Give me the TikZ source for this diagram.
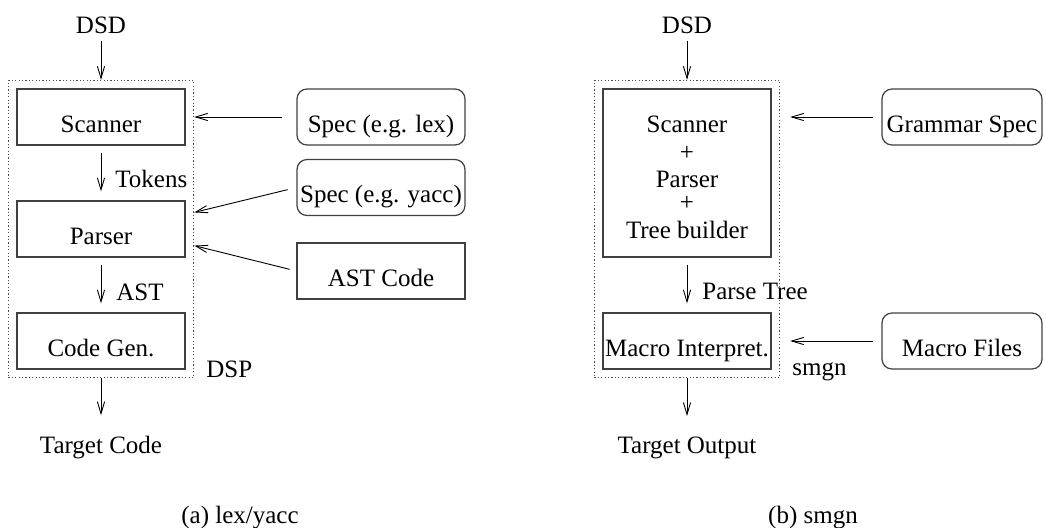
\documentclass[tikz,border=0pt]{standalone}
\usepackage{fontspec}
\setmainfont{Liberation Serif}
\usetikzlibrary{arrows.meta,fit,calc}
\newcommand{\figfont}{\fontsize{12.5}{14}\selectfont}
\tikzset{
  stage/.style={draw=black!75, line width=0.6pt, minimum width=84pt, minimum height=28pt,
    inner sep=0pt, text height=15pt, text depth=0pt, font=\figfont},
  specbox/.style={stage, rounded corners=5pt},
  dspbox/.style={draw=black!70, line width=0.6pt, dash pattern=on 0.6pt off 1.1pt, inner sep=4pt},
  txt/.style={inner sep=0pt, font=\figfont},
  flow/.style={-{Straight Barb[length=6pt,width=3.6pt]}, line width=0.45pt}
}

\begin{document}
\begin{tikzpicture}[x=0.5pt,y=-0.5pt]
  \useasboundingbox (0,0) rectangle (1046,527);

  % lex/yacc
  \node[txt, anchor=base] (lexdsd) at (101,33) {DSD};
  \node[stage] (scanner) at (101,117) {Scanner};
  \node[stage] (parser) at (101,229) {Parser};
  \node[stage] (codegen) at (101,341) {Code Gen.};
  \node[dspbox, fit=(scanner)(codegen)] (lexdsp) {};
  \node[txt, anchor=base] (lextarget) at (101,453) {Target Code};

  \node[specbox] (speclex) at (381,117) {Spec (e.g. lex)};
  \node[specbox] (specyacc) at (381,187.5) {Spec (e.g. yacc)};
  \node[stage] (astcode) at (381,271) {AST Code};

  \node[txt, anchor=base west] (tokens) at (115,187) {Tokens};
  \node[txt, anchor=base west] (ast) at (116,300) {AST};
  \node[txt, anchor=base west] (dsp) at (206,377) {DSP};

  \coordinate (yaccin) at ([yshift=-6pt]lexdsp.east |- parser.north);
  \coordinate (astin) at ([yshift=6pt]lexdsp.east |- parser.south);

  \draw[flow, shorten <=3.5pt] (lexdsd.south) -- (lexdsp.north);
  \draw[flow, shorten <=3.5pt, shorten >=4.5pt] (scanner.south) -- (parser.north);
  \draw[flow, shorten <=3.5pt, shorten >=4.5pt] (parser.south) -- (codegen.north);
  \draw[flow, shorten >=10pt] (lexdsp.south) -- (lextarget.north);
  \draw[flow, shorten <=7pt] (speclex.west) -- (speclex.west -| lexdsp.east);
  \draw[flow, shorten <=4.5pt] (specyacc.west) -- (yaccin);
  \draw[flow, shorten <=3.5pt] (astcode.west) -- (astin);

  \node[txt, anchor=base] (capa) at (240,523) {(a) lex/yacc};

  % smgn
  \node[txt, anchor=base] (smgndsd) at (687,33) {DSD};
  \node[stage, minimum height=84pt, text height=65pt, align=center] (front) at (687,173)
    {Scanner\\+\\[-0.5pt]Parser\\[-2.5pt]+\\[0pt]Tree builder};
  \node[stage] (interp) at (687,341) {Macro Interpret.};
  \node[dspbox, fit=(front)(interp)] (smgndsp) {};
  \node[txt, anchor=base] (smgntarget) at (687,453) {Target Output};

  \node[specbox, minimum width=80pt] (grammar) at (962,117) {Grammar Spec};
  \node[specbox, minimum width=80pt] (macros) at (962,341) {Macro Files};

  \node[txt, anchor=base west] (parsetree) at (702,299) {Parse Tree};
  \node[txt, anchor=base west] (smgnlbl) at (792,375) {smgn};

  \draw[flow, shorten <=3.5pt] (smgndsd.south) -- (smgndsp.north);
  \draw[flow, shorten <=3.5pt, shorten >=4.5pt] (front.south) -- (interp.north);
  \draw[flow, shorten >=10pt] (smgndsp.south) -- (smgntarget.north);
  \draw[flow, shorten <=4pt, shorten >=5pt] (grammar.west) -- (grammar.west -| smgndsp.east);
  \draw[flow, shorten <=4pt, shorten >=5pt] (macros.west) -- (macros.west -| smgndsp.east);

  \node[txt, anchor=base] (capb) at (813,523) {(b) smgn};
\end{tikzpicture}
\end{document}
